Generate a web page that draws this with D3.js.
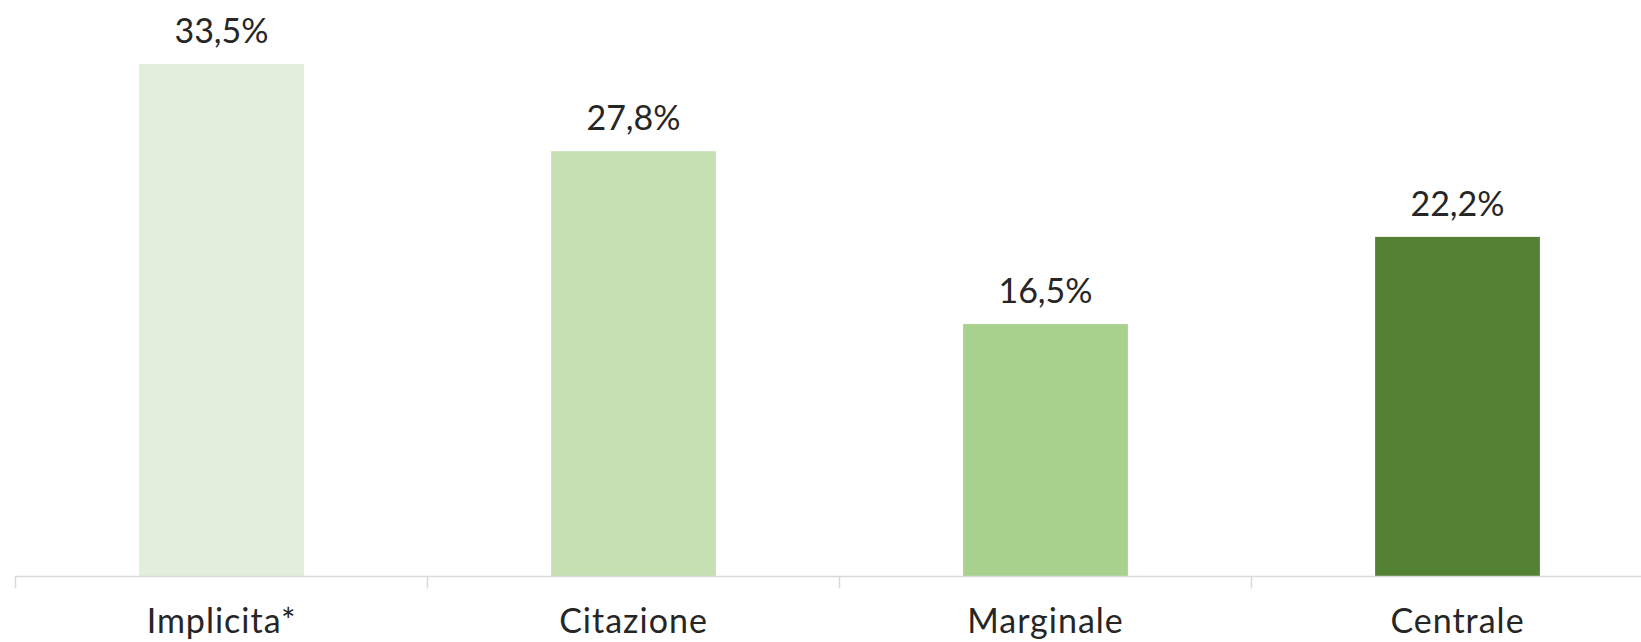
<!DOCTYPE html>
<html><head><meta charset="utf-8">
<script src="https://cdn.jsdelivr.net/npm/d3@7"></script>
<style>html,body{margin:0;padding:0;background:#fff;overflow:hidden}</style>
</head><body>
<svg id="c" width="1641" height="642"></svg>
<script>
const categories = ["Implicita*", "Citazione", "Marginale", "Centrale"];
const values = [33.5, 27.8, 16.5, 22.2];
const valueLabels = ["33,5%", "27,8%", "16,5%", "22,2%"];
const colors = ["#E2EFDA", "#C6E0B4", "#A9D18E", "#548235"];

const svg = d3.select("#c");
const baseY = 576.5;
const x = d3.scaleBand().domain(categories).range([15.5, 1663.5]).paddingInner(0.6).paddingOuter(0.3);
const y = d3.scaleLinear().domain([0, 33.5]).range([baseY, 64]);
const font = "Lato, 'Open Sans', sans-serif";

svg.selectAll("rect.bar").data(categories).enter().append("rect")
  .attr("x", d => x(d)).attr("width", x.bandwidth())
  .attr("y", (d,i) => y(values[i])).attr("height", (d,i) => baseY - y(values[i]))
  .attr("fill", (d,i) => colors[i]);

// axis line
svg.append("line").attr("x1", 15.5).attr("x2", 1641).attr("y1", baseY).attr("y2", baseY)
  .attr("stroke", "#d9d9d9").attr("stroke-width", 1.5);
// tick marks at category boundaries
const bounds = d3.range(categories.length + 1).map(i => x.range()[0] + i * x.step());
svg.selectAll("line.tick").data(bounds).enter().append("line")
  .attr("x1", d => d).attr("x2", d => d).attr("y1", baseY).attr("y2", baseY + 12)
  .attr("stroke", "#d9d9d9").attr("stroke-width", 1.5);

svg.selectAll("text.val").data(categories).enter().append("text")
  .attr("x", d => x(d) + x.bandwidth()/2).attr("y", (d,i) => y(values[i]) - 21)
  .attr("text-anchor", "middle").attr("font-family", font).attr("font-size", 34)
  .attr("fill", "#262626").text((d,i) => valueLabels[i]);

svg.selectAll("text.cat").data(categories).enter().append("text")
  .attr("x", d => x(d) + x.bandwidth()/2).attr("y", 633)
  .attr("text-anchor", "middle").attr("font-family", font).attr("font-size", 34)
  .attr("letter-spacing", 1)
  .attr("fill", "#262626").text(d => d);
</script>
</body></html>
